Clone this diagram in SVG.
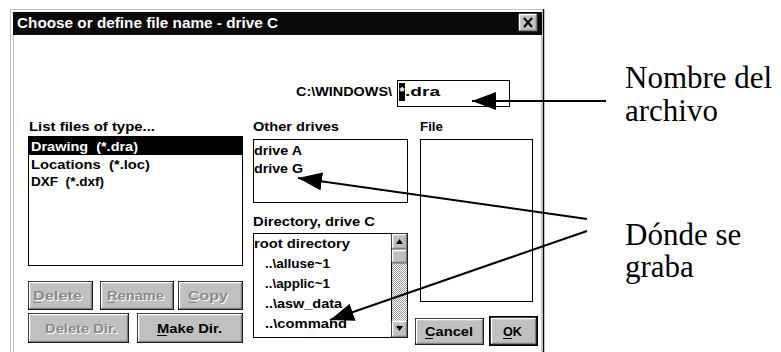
<svg xmlns="http://www.w3.org/2000/svg" width="781" height="352" viewBox="0 0 781 352">
<defs>
<style>
.ui{font-family:"Liberation Sans",Arial,sans-serif;font-weight:bold;font-size:13px;fill:#000;white-space:pre}
.title{font-family:"Liberation Sans",Arial,sans-serif;font-weight:bold;font-size:14px;fill:#fff}
.inv{fill:#fff}
.dis{fill:#8a8a8a}
.emb{fill:#fff}
.note{font-family:"Liberation Serif","Times New Roman",serif;font-size:31px;fill:#000}
.box{fill:#fff;stroke:#000;stroke-width:1}
.btn{fill:#c0c0c0;stroke:#000;stroke-width:1}
.hi{fill:none;stroke:#fff;stroke-width:1.5}
.sh{fill:none;stroke:#808080;stroke-width:1.5}
.ul{stroke:#000;stroke-width:1}
.uld{stroke:#8a8a8a;stroke-width:1}
.frame{stroke:#c4c4c4;stroke-width:1}
.conn{stroke:#000;stroke-width:2;fill:none}
</style>
<marker id="ah" markerUnits="userSpaceOnUse" markerWidth="26" markerHeight="20" refX="24" refY="9" orient="auto">
<path d="M0,0 L24,9 L0,18 Z" fill="#000"/>
</marker>
<pattern id="dots" width="2" height="2" patternUnits="userSpaceOnUse">
<rect width="2" height="2" fill="#fff"/>
<rect width="1" height="1" fill="#9a9a9a"/>
<rect x="1" y="1" width="1" height="1" fill="#9a9a9a"/>
</pattern>
</defs>

<rect width="781" height="352" fill="#fff"/>

<!-- dialog window frame -->
<g id="window">
<line class="frame" x1="10" y1="9.5" x2="544" y2="9.5"/>
<line class="frame" x1="10.5" y1="9" x2="10.5" y2="352"/>
<line class="frame" x1="13.5" y1="35" x2="13.5" y2="352"/>
<line class="frame" x1="541.5" y1="35" x2="541.5" y2="352"/>
<line x1="543.5" y1="9" x2="543.5" y2="352" stroke="#000" stroke-width="1.5"/>
<rect x="13" y="12" width="529" height="23" fill="#0a0a0a"/>
<text class="title" x="17" y="28" textLength="261" lengthAdjust="spacingAndGlyphs">Choose or define file name - drive C</text>
<g id="close">
<rect x="519" y="14" width="18" height="17" fill="#c0c0c0"/>
<polyline class="hi" points="519.5,30.5 519.5,14.5 536.5,14.5"/>
<polyline class="sh" points="519.5,30.5 536.5,30.5 536.5,14.5"/>
<path d="M524,18 L532,27 M532,18 L524,27" stroke="#000" stroke-width="2"/>
</g>
</g>

<!-- file name field -->
<g id="filename">
<text class="ui" x="296" y="96" textLength="96" lengthAdjust="spacingAndGlyphs">C:\WINDOWS\</text>
<rect class="box" x="397.5" y="80.5" width="112" height="26"/>
<rect x="399" y="83" width="6" height="18" fill="#000"/>
<text class="ui inv" x="399.5" y="96">*</text>
<text class="ui" x="405" y="96" textLength="35" lengthAdjust="spacingAndGlyphs">.dra</text>
</g>

<!-- file type list -->
<g id="filetypes">
<text class="ui" x="29" y="131" textLength="126" lengthAdjust="spacingAndGlyphs">List files of type...</text>
<rect class="box" x="28.5" y="136.5" width="214" height="129"/>
<rect x="29" y="137" width="213" height="18" fill="#000"/>
<text class="ui inv" x="31" y="151" textLength="107" lengthAdjust="spacingAndGlyphs">Drawing  (*.dra)</text>
<text class="ui" x="31" y="169" textLength="119" lengthAdjust="spacingAndGlyphs">Locations  (*.loc)</text>
<text class="ui" x="31" y="186" textLength="73" lengthAdjust="spacingAndGlyphs">DXF  (*.dxf)</text>
</g>

<!-- other drives list -->
<g id="drives">
<text class="ui" x="253" y="131" textLength="86" lengthAdjust="spacingAndGlyphs">Other drives</text>
<rect class="box" x="253.5" y="139.5" width="154" height="63"/>
<text class="ui" x="254" y="155" textLength="48" lengthAdjust="spacingAndGlyphs">drive A</text>
<text class="ui" x="254" y="173" textLength="49" lengthAdjust="spacingAndGlyphs">drive G</text>
</g>

<!-- file list -->
<g id="files">
<text class="ui" x="420" y="131" textLength="23" lengthAdjust="spacingAndGlyphs">File</text>
<rect class="box" x="420.5" y="139.5" width="112" height="162"/>
</g>

<!-- directory list with scrollbar -->
<g id="directory">
<text class="ui" x="253" y="226" textLength="122" lengthAdjust="spacingAndGlyphs">Directory, drive C</text>
<rect class="box" x="253.5" y="233.5" width="154" height="104"/>
<rect x="391" y="234" width="16" height="103" fill="url(#dots)"/>
<line x1="391.5" y1="234" x2="391.5" y2="337" stroke="#000"/>
<rect x="392" y="234" width="15" height="15" fill="#c0c0c0"/>
<polyline class="hi" points="392.5,248.5 392.5,234.5 406.5,234.5"/>
<polyline class="sh" points="392.5,248.5 406.5,248.5 406.5,234.5"/>
<path d="M396,244 L403,244 L399.5,239 Z" fill="#000"/>
<rect x="392" y="250" width="15" height="13" fill="#c0c0c0" stroke="#000" stroke-width="0.5"/>
<polyline class="hi" points="392.5,262 392.5,250.5 406.5,250.5"/>
<polyline class="sh" points="392.5,262.5 406.5,262.5 406.5,250.5"/>
<rect x="392" y="321" width="15" height="16" fill="#c0c0c0"/>
<polyline class="hi" points="392.5,336.5 392.5,321.5 406.5,321.5"/>
<polyline class="sh" points="392.5,336.5 406.5,336.5 406.5,321.5"/>
<path d="M396,326 L403,326 L399.5,331 Z" fill="#000"/>
<text class="ui" x="254" y="248" textLength="96" lengthAdjust="spacingAndGlyphs">root directory</text>
<text class="ui" x="265" y="268" textLength="65" lengthAdjust="spacingAndGlyphs">..\alluse~1</text>
<text class="ui" x="265" y="288" textLength="65" lengthAdjust="spacingAndGlyphs">..\applic~1</text>
<text class="ui" x="265" y="308" textLength="77" lengthAdjust="spacingAndGlyphs">..\asw_data</text>
<text class="ui" x="265" y="328" textLength="82" lengthAdjust="spacingAndGlyphs">..\command</text>
</g>

<!-- push buttons -->
<g id="btn-delete">
<rect class="btn" x="28.5" y="281.5" width="64" height="28"/>
<polyline class="hi" points="29.5,308 29.5,282.5 91.5,282.5"/>
<polyline class="sh" points="30,308.5 91.5,308.5 91.5,283"/>
<text class="ui emb" x="34" y="301" textLength="49" lengthAdjust="spacingAndGlyphs">Delete</text>
<text class="ui dis" x="33" y="300" textLength="49" lengthAdjust="spacingAndGlyphs">Delete</text>
<line class="uld" x1="33" y1="302.5" x2="41" y2="302.5"/>
</g>
<g id="btn-rename">
<rect class="btn" x="100.5" y="281.5" width="73" height="28"/>
<polyline class="hi" points="101.5,308 101.5,282.5 172.5,282.5"/>
<polyline class="sh" points="102,308.5 172.5,308.5 172.5,283"/>
<text class="ui emb" x="108" y="301" textLength="57" lengthAdjust="spacingAndGlyphs">Rename</text>
<text class="ui dis" x="107" y="300" textLength="57" lengthAdjust="spacingAndGlyphs">Rename</text>
<line class="uld" x1="107" y1="302.5" x2="115" y2="302.5"/>
</g>
<g id="btn-copy">
<rect class="btn" x="178.5" y="281.5" width="64" height="28"/>
<polyline class="hi" points="179.5,308 179.5,282.5 241.5,282.5"/>
<polyline class="sh" points="180,308.5 241.5,308.5 241.5,283"/>
<text class="ui emb" x="189" y="301" textLength="40" lengthAdjust="spacingAndGlyphs">Copy</text>
<text class="ui dis" x="188" y="300" textLength="40" lengthAdjust="spacingAndGlyphs">Copy</text>
<line class="uld" x1="188" y1="302.5" x2="196" y2="302.5"/>
</g>
<g id="btn-deletedir">
<rect class="btn" x="28.5" y="313.5" width="100" height="29"/>
<polyline class="hi" points="29.5,341 29.5,314.5 127.5,314.5"/>
<polyline class="sh" points="30,341.5 127.5,341.5 127.5,315"/>
<text class="ui emb" x="46" y="334" textLength="72" lengthAdjust="spacingAndGlyphs">Delete Dir.</text>
<text class="ui dis" x="45" y="333" textLength="72" lengthAdjust="spacingAndGlyphs">Delete Dir.</text>
</g>
<g id="btn-makedir">
<rect class="btn" x="137.5" y="313.5" width="105" height="29"/>
<polyline class="hi" points="138.5,341 138.5,314.5 241.5,314.5"/>
<polyline class="sh" points="139,341.5 241.5,341.5 241.5,315"/>
<text class="ui" x="157" y="333" textLength="65" lengthAdjust="spacingAndGlyphs">Make Dir.</text>
<line class="ul" x1="157" y1="335.5" x2="167" y2="335.5"/>
</g>
<g id="btn-cancel">
<rect class="btn" x="415.5" y="318.5" width="68" height="26"/>
<polyline class="hi" points="416.5,343 416.5,319.5 482.5,319.5"/>
<polyline class="sh" points="417,343.5 482.5,343.5 482.5,320"/>
<text class="ui" x="425" y="336" textLength="48" lengthAdjust="spacingAndGlyphs">Cancel</text>
<line class="ul" x1="425" y1="338.5" x2="433" y2="338.5"/>
</g>
<g id="btn-ok">
<rect x="490" y="317" width="47" height="28" fill="#c0c0c0" stroke="#000" stroke-width="2"/>
<polyline class="hi" points="491.5,343.5 491.5,318.5 535.5,318.5"/>
<polyline class="sh" points="492,343.5 535.5,343.5 535.5,319"/>
<text class="ui" x="503" y="336" textLength="19" lengthAdjust="spacingAndGlyphs">OK</text>
<line class="ul" x1="503" y1="338.5" x2="512" y2="338.5"/>
</g>

<!-- callout labels -->
<g id="label-nombre">
<text class="note" x="625" y="88">Nombre del</text>
<text class="note" x="625" y="121">archivo</text>
</g>
<g id="label-donde">
<text class="note" x="625" y="245">Dónde se</text>
<text class="note" x="625" y="277">graba</text>
</g>

<!-- callout arrows -->
<g id="connectors">
<line class="conn" x1="606" y1="101" x2="472" y2="101" marker-end="url(#ah)"/>
<line class="conn" x1="587" y1="219" x2="298" y2="178" marker-end="url(#ah)"/>
<line class="conn" x1="587" y1="231" x2="330" y2="320" marker-end="url(#ah)"/>
</g>
</svg>
